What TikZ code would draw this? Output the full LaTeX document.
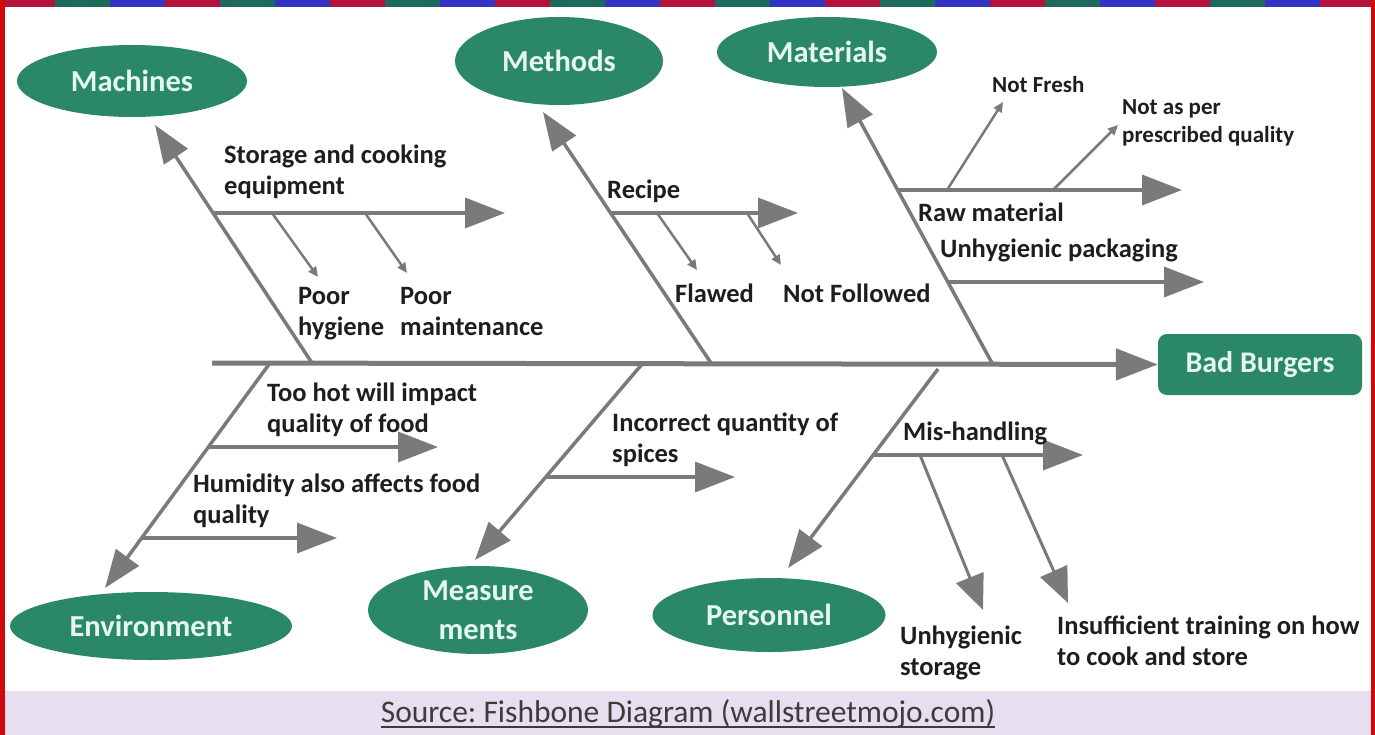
\documentclass[tikz,border=0pt]{standalone}
\usepackage{fontspec}
\setmainfont{Carlito}
\usetikzlibrary{arrows.meta,shapes.geometric}
\definecolor{teal1}{HTML}{2A8767}
\definecolor{mint}{HTML}{E4F6EE}
\definecolor{bone}{HTML}{7A7A7A}
\definecolor{ink}{HTML}{1E1E1E}
\definecolor{band}{HTML}{E7DFF0}
\definecolor{captxt}{HTML}{3C3C3C}
\definecolor{tr}{HTML}{B3123E}
\definecolor{tb}{HTML}{3434C4}
\definecolor{tg}{HTML}{1E6A5C}
\definecolor{bred}{HTML}{D00A0A}
\frenchspacing
\tikzset{
  cat/.style={ellipse, fill=teal1, text=mint, inner sep=0pt, align=center,
    font=\fontsize{30.5}{39}\selectfont\bfseries},
  effect/.style={rectangle, rounded corners=9pt, fill=teal1, text=mint, inner sep=0pt,
    minimum width=204pt, minimum height=61pt, font=\fontsize{30}{32}\selectfont\bfseries},
  lbl/.style={anchor=base west, align=left, inner sep=0pt, text=ink,
    font=\fontsize{26.5}{31}\selectfont\bfseries},
  slbl/.style={lbl, font=\fontsize{23}{28}\selectfont\bfseries},
  spine/.style={draw=bone, line width=5pt, -{Triangle[length=42pt,width=31pt]}},
  bonel/.style={draw=bone, line width=3.5pt, -{Triangle[length=38pt,width=28pt]}},
  subb/.style={draw=bone, line width=3.5pt, -{Triangle[length=40pt,width=30pt]}},
  bigtwig/.style={draw=bone, line width=3pt, -{Triangle[length=35pt,width=29pt]}},
  twig/.style={draw=bone, line width=2.5pt, -{Triangle[length=10pt,width=9pt]}},
}
\begin{document}
\begin{tikzpicture}[x=1pt,y=-1pt]
\useasboundingbox (0,0) rectangle (1375,735);
\fill[white] (0,0) rectangle (1375,735);
% caption band
\fill[band] (0,691) rectangle (1375,735);
% border
\foreach \i in {0,...,25}{
  \pgfmathtruncatemacro\k{mod(\i,3)}
  \ifcase\k \def\cc{tr}\or \def\cc{tg}\or \def\cc{tb}\fi
  \fill[\cc] (\i*55,0) rectangle ++(55,7);
}
\fill[bred] (0,0) rectangle (5,735);
\fill[bred] (1371,0) rectangle (1375,735);

% nodes
\node[cat, minimum width=230pt, minimum height=72pt] (mach) at (132,81) {Machines};
\node[cat, minimum width=208pt, minimum height=88pt] (meth) at (559,61) {Methods};
\node[cat, minimum width=220pt, minimum height=70pt] (matl) at (827,52) {Materials};
\node[cat, minimum width=282pt, minimum height=68pt] (env) at (151,626) {Environment};
\node[cat, minimum width=220pt, minimum height=88pt] (meas) at (478,610) {Measure\\ments};
\node[cat, minimum width=233pt, minimum height=74pt] (pers) at (769,615) {Personnel};
\node[effect] (bb) at (1260,364.5) {Bad Burgers};

% spine
\coordinate (spL) at (212,363);
\draw[spine] (spL) -- (bb.west);

% coordinates on spine and bone tips
\coordinate (mcB) at (312,363);  \coordinate (mcT) at (155,125);
\coordinate (mtB) at (711,363);  \coordinate (mtT) at (543,112);
\coordinate (maB) at (992,363);  \coordinate (maT) at (842,88);
\coordinate (enB) at (270,363);  \coordinate (enT) at (105,588);
\coordinate (msB) at (643,363);  \coordinate (msT) at (475,560);
\coordinate (peB) at (938,369);  \coordinate (peT) at (788,568);

\draw[bonel] (mcB) -- (mcT);
\draw[bonel] (mtB) -- (mtT);
\draw[bonel] (maB) -- (maT);
\draw[bonel] (enB) -- (enT);
\draw[bonel] (msB) -- (msT);
\draw[bonel] (peB) -- (peT);

% Machines sub-bones
\coordinate (st0) at (213,213); \coordinate (st1) at (505,213);
\draw[subb] (st0) -- (st1);
\coordinate (ph0) at (272,213); \coordinate (ph1) at (318,277);
\coordinate (pm0) at (365,213); \coordinate (pm1) at (407,273);
\draw[twig] (ph0) -- (ph1);
\draw[twig] (pm0) -- (pm1);
\node[lbl] (lst) at (224,195) {Storage and cooking\\equipment};
\node[lbl] (lph) at (298,335) {Poor\\hygiene};
\node[lbl] (lpm) at (400,335) {Poor\\maintenance};

% Methods sub-bones
\coordinate (rc0) at (610,213); \coordinate (rc1) at (798,213);
\draw[subb] (rc0) -- (rc1);
\coordinate (fl0) at (657,213); \coordinate (fl1) at (697,270);
\coordinate (nf0) at (747,213); \coordinate (nf1) at (781,265);
\draw[twig] (fl0) -- (fl1);
\draw[twig] (nf0) -- (nf1);
\node[lbl] (lrc) at (607,199) {Recipe};
\node[lbl] (lfl) at (675,302) {Flawed};
\node[lbl] (lnf) at (783,302) {Not Followed};

% Materials sub-bones
\coordinate (rm0) at (898,190); \coordinate (rm1) at (1182,190);
\draw[subb] (rm0) -- (rm1);
\coordinate (up0) at (949,282); \coordinate (up1) at (1204,282);
\draw[subb] (up0) -- (up1);
\coordinate (fr0) at (947,190); \coordinate (fr1) at (1003,102);
\coordinate (pq0) at (1053,190); \coordinate (pq1) at (1118,125);
\draw[twig] (fr0) -- (fr1);
\draw[twig] (pq0) -- (pq1);
\node[lbl] (lrm) at (918,222) {Raw material};
\node[lbl] (lup) at (940,258) {Unhygienic packaging};
\node[slbl] (lfr) at (992,93) {Not Fresh};
\node[slbl] (lpq) at (1122,143) {Not as per\\prescribed quality};

% Environment sub-bones
\coordinate (th0) at (208,447); \coordinate (th1) at (438,447);
\draw[subb] (th0) -- (th1);
\coordinate (hu0) at (142,538); \coordinate (hu1) at (337,538);
\draw[subb] (hu0) -- (hu1);
\node[lbl] (lth) at (267,432) {Too hot will impact\\quality of food};
\node[lbl] (lhu) at (193,523) {Humidity also affects food\\quality};

% Measurements sub-bone
\coordinate (iq0) at (546,477); \coordinate (iq1) at (735,477);
\draw[subb] (iq0) -- (iq1);
\node[lbl] (liq) at (612,462) {Incorrect quantity of\\spices};

% Personnel sub-bones
\coordinate (mh0) at (873,455); \coordinate (mh1) at (1083,455);
\draw[subb] (mh0) -- (mh1);
\coordinate (us0) at (920,455); \coordinate (us1) at (983,610);
\coordinate (it0) at (1002,455); \coordinate (it1) at (1068,603);
\draw[bigtwig] (us0) -- (us1);
\draw[bigtwig] (it0) -- (it1);
\node[lbl] (lmh) at (903,440) {Mis-handling};
\node[lbl] (lus) at (900,675) {Unhygienic\\storage};
\node[lbl] (lit) at (1057,665) {Insufficient training on how\\to cook and store};

% caption
\node[text=captxt, font=\fontsize{31.5}{33}\selectfont, inner sep=0pt, anchor=base] (cap) at (688,722)
  {Source: Fishbone Diagram (wallstreetmojo.com)};
\draw[captxt, line width=2.5pt] ([yshift=-5pt]cap.base west) -- ([yshift=-5pt]cap.base east);
\end{tikzpicture}
\end{document}
